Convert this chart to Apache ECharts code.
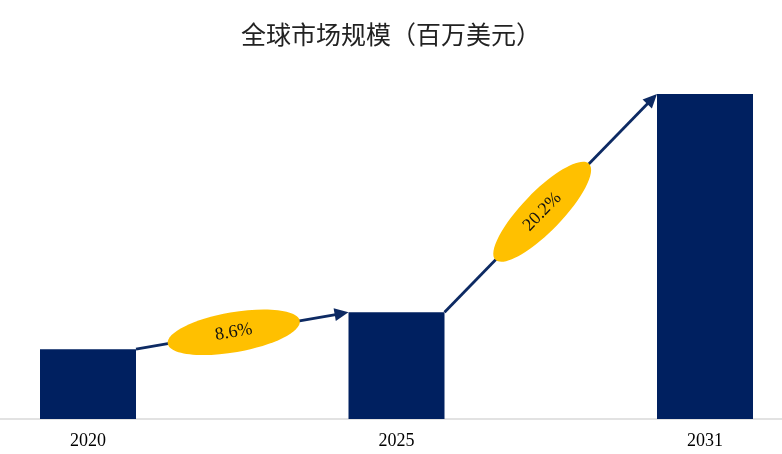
<!DOCTYPE html>
<html>
<head>
<meta charset="utf-8">
<script src="https://cdn.jsdelivr.net/npm/echarts@6/dist/echarts.min.js"></script>
<style>
  html, body { margin: 0; padding: 0; background: #fff; }
  #chart { width: 782px; height: 454px; }
</style>
</head>
<body>
<div id="chart"></div>
<script>
const years = ["2020", "2025", "2031"];
const marketSize = [700, 1070, 3260];
const cagrLabels = ["8.6%", "20.2%"];

const BAR_W = 96;
const barColor = "#002060";
const arrowColor = "#0D2A63";
const ellipseColor = "#FFC000";

// 每段箭头：从前一根柱子的右上角到后一根柱子的左上角
const arrowData = cagrLabels.map((label, i) => [i, marketSize[i], marketSize[i + 1], label]);

const chart = echarts.init(document.getElementById("chart"));

function renderArrow(params, api) {
  const i = api.value(0);
  const p0 = api.coord([i, api.value(1)]);
  const p1 = api.coord([i + 1, api.value(2)]);
  const x0 = p0[0] + BAR_W / 2, y0 = p0[1];
  const x1 = p1[0] - BAR_W / 2, y1 = p1[1];
  const dx = x1 - x0, dy = y1 - y0;
  const len = Math.sqrt(dx * dx + dy * dy);
  const ux = dx / len, uy = dy / len;
  const headL = 14, headW = 6.5;
  const bx = x1 - ux * headL, by = y1 - uy * headL;
  const ang = -Math.atan2(dy, dx);
  const t = 0.46;
  const cx = x0 + dx * t, cy = y0 + dy * t;
  return {
    type: "group",
    children: [
      {
        type: "line",
        shape: { x1: x0, y1: y0, x2: bx + ux, y2: by + uy },
        style: { stroke: arrowColor, lineWidth: 2.8 }
      },
      {
        type: "polygon",
        shape: {
          points: [
            [x1, y1],
            [bx - uy * headW, by + ux * headW],
            [bx + uy * headW, by - ux * headW]
          ]
        },
        style: { fill: arrowColor }
      },
      {
        type: "ellipse",
        x: cx,
        y: cy,
        rotation: ang,
        shape: { cx: 0, cy: 0, rx: 67, ry: 20 },
        style: { fill: ellipseColor }
      },
      {
        type: "text",
        x: cx,
        y: cy,
        rotation: ang,
        style: {
          text: api.value(3),
          fill: "#111",
          font: '18px "Liberation Serif", "Times New Roman", serif',
          align: "center",
          verticalAlign: "middle"
        }
      }
    ]
  };
}

const option = {
  animation: false,
  backgroundColor: "#fff",
  title: {
    text: "全球市场规模（百万美元）",
    left: "center",
    top: 17,
    textStyle: {
      fontFamily: '"Noto Sans CJK SC", sans-serif',
      fontSize: 25,
      fontWeight: "normal",
      color: "#222"
    }
  },
  grid: [
    { left: 0, right: 0, top: 60, bottom: 35 },
    { left: 88, right: 77, top: 60, bottom: 35 }
  ],
  xAxis: [
    {
      gridIndex: 0,
      type: "value",
      min: 0,
      max: 1,
      axisLine: { show: true, lineStyle: { color: "#D9D9D9", width: 1.5 } },
      axisTick: { show: false },
      axisLabel: { show: false },
      splitLine: { show: false }
    },
    {
      gridIndex: 1,
      type: "category",
      boundaryGap: false,
      data: years,
      axisLine: { show: false },
      axisTick: { show: false },
      axisLabel: {
        margin: 13,
        color: "#000",
        fontSize: 18,
        fontFamily: '"Liberation Serif", "Times New Roman", serif'
      }
    }
  ],
  yAxis: [
    { gridIndex: 0, type: "value", show: false, min: 0, max: 3600 },
    { gridIndex: 1, type: "value", show: false, min: 0, max: 3600 }
  ],
  series: [
    {
      type: "bar",
      xAxisIndex: 1,
      yAxisIndex: 1,
      data: marketSize,
      barWidth: BAR_W,
      itemStyle: { color: barColor }
    },
    {
      type: "custom",
      xAxisIndex: 1,
      yAxisIndex: 1,
      data: arrowData,
      renderItem: renderArrow,
      z: 5
    }
  ]
};

chart.setOption(option);
</script>
</body>
</html>
